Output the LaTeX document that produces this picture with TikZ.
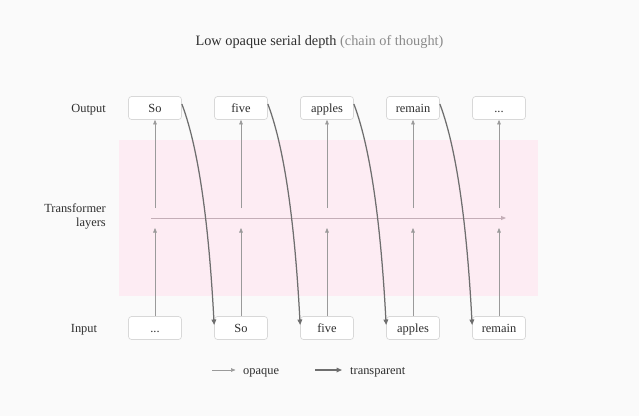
\documentclass[tikz,border=0pt]{standalone}
\usepackage{fontspec}
\setmainfont{Liberation Serif}
\usetikzlibrary{arrows.meta}
\definecolor{bgc}{HTML}{FAFAFA}
\definecolor{pinkc}{HTML}{FDECF3}
\definecolor{boxc}{HTML}{D8D8D8}
\definecolor{txt}{HTML}{2E2E2E}
\definecolor{grayc}{HTML}{8A8A8A}
\definecolor{opc}{HTML}{9A9A9A}
\definecolor{trc}{HTML}{6E6E6E}
\definecolor{hzc}{HTML}{C4AEB7}
\begin{document}
\begin{tikzpicture}[x=1pt,y=-1pt,
  tok/.style={draw=boxc, fill=white, rounded corners=3pt, line width=0.7pt,
    minimum width=53pt, minimum height=23pt, inner sep=0pt, text=txt,
    text height=11pt, text depth=2pt,
    font=\fontsize{12.4}{14}\selectfont},
  lbl/.style={text=txt, inner sep=0pt, text height=11pt, text depth=2pt,
    font=\fontsize{12.4}{14}\selectfont},
  ttl/.style={text=txt, inner sep=0pt, text height=9.6pt, text depth=3pt,
    font=\fontsize{14.3}{17}\selectfont},
  opq/.style={draw=opc, line width=0.6pt, -{Triangle[length=4.5pt,width=3.6pt]}},
  trn/.style={draw=trc, line width=1.25pt, -{Triangle[length=5.5pt,width=4.6pt]}},
  hz/.style={draw=hzc, line width=0.9pt, -{Triangle[length=5pt,width=4pt]}},
]
\useasboundingbox (0,0) rectangle (639,416);
\fill[bgc] (0,0) rectangle (639,416);
\fill[pinkc] (119,140) rectangle (538,296);

\node[ttl] (title) at (319.5,42) {Low opaque serial depth \textcolor{grayc}{(chain of thought)}};

\node[lbl, anchor=east] (lout) at (106,108) {Output};
\node[lbl, anchor=east, align=right, text height=, text depth=] (ltr) at (106,216) {Transformer\\layers};
\node[lbl, anchor=west] (lin) at (70.7,328) {Input};

\foreach \k/\x/\ot/\it in {1/155/So/{...}, 2/241/five/So, 3/327/apples/five, 4/413/remain/apples, 5/499/{...}/remain}{
  \node[tok] (o\k) at (\x,108) {\ot};
  \node[tok] (i\k) at (\x,328) {\it};
  \coordinate (ua\k) at (\x,208);
  \coordinate (la\k) at (\x,228);
}

\coordinate (hs) at (151,218);
\coordinate (he) at (506,218);
\draw[hz] (hs) -- (he);

\foreach \k in {1,...,5}{
  \draw[opq] (ua\k) -- (o\k.south);
  \draw[opq] (i\k.north) -- (la\k);
}

\foreach \k/\j in {1/2,2/3,3/4,4/5}{
  \draw[trn] ([yshift=4pt]o\k.east) .. controls +(19,50) and +(-4.5,-85) .. ([yshift=3pt]i\j.west);
}

% legend
\coordinate (oa) at (212,370);
\coordinate (ob) at (235.5,370);
\draw[opq] (oa) -- (ob);
\node[lbl, anchor=west] (lop) at (243,370) {opaque};
\coordinate (ta) at (315,370);
\coordinate (tb) at (342,370);
\draw[trn] (ta) -- (tb);
\node[lbl, anchor=west] (ltp) at (350,370) {transparent};
\end{tikzpicture}
\end{document}
